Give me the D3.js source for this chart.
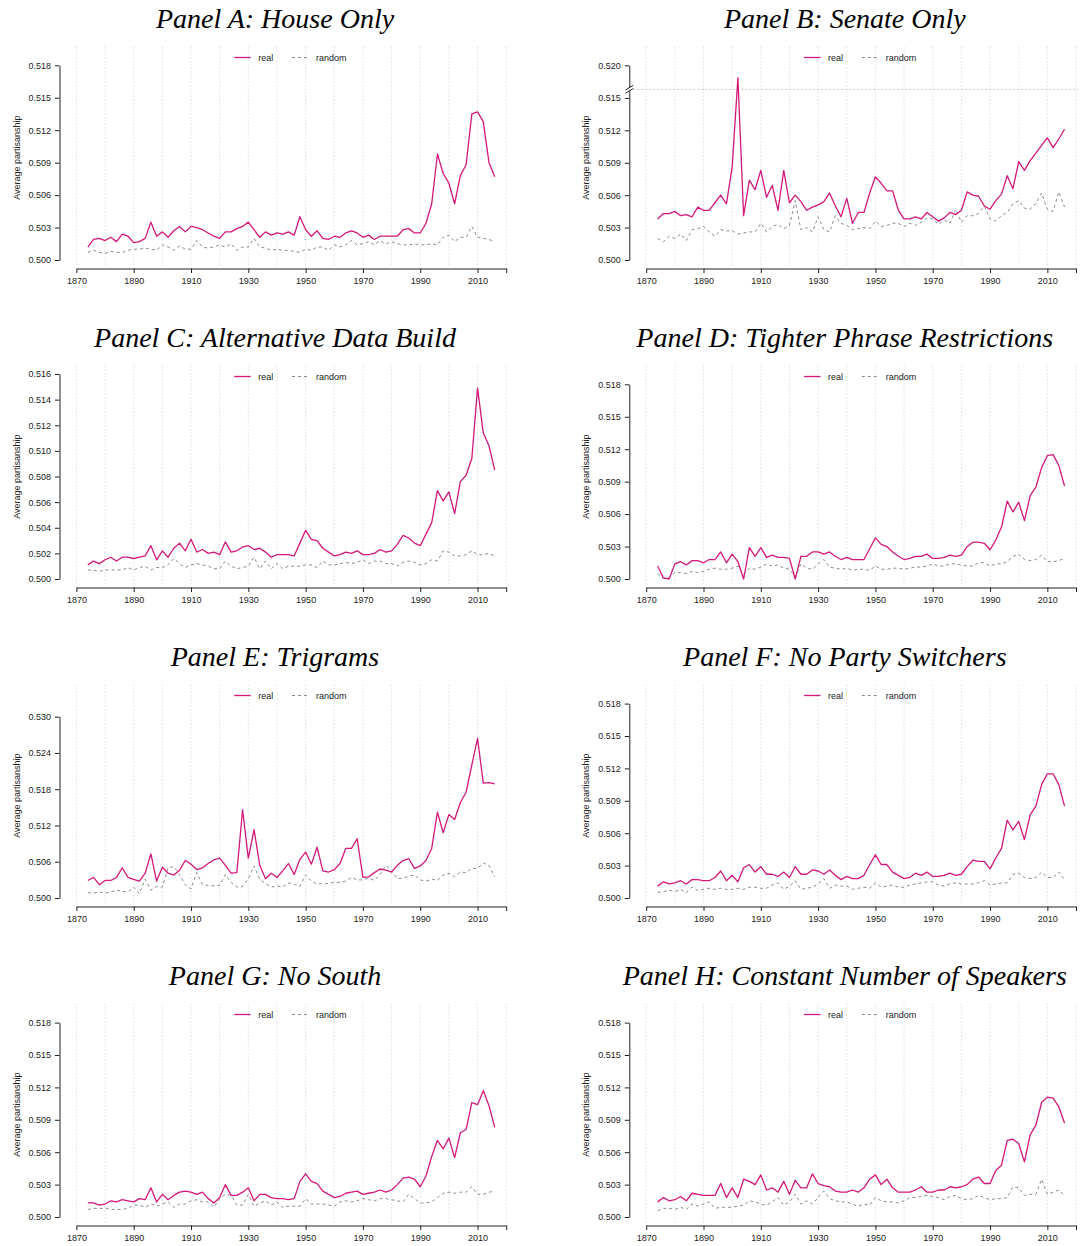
<!DOCTYPE html>
<html>
<head>
<meta charset="utf-8">
<script src="https://cdn.jsdelivr.net/npm/d3@7"></script>
<style>
  body { margin: 0; background: #fff; }
  svg { display: block; }
  .tick text { font-family: "Liberation Sans", Arial, sans-serif; font-size: 9px; fill: #222; }
</style>
</head>
<body>
<svg id="fig" width="1081" height="1246"></svg>
<script>
// Congress years (one point per two-year session)
const years = [1874,1876,1878,1880,1882,1884,1886,1888,1890,1892,
  1894,1896,1898,1900,1902,1904,1906,1908,1910,1912,
  1914,1916,1918,1920,1922,1924,1926,1928,1930,1932,
  1934,1936,1938,1940,1942,1944,1946,1948,1950,1952,
  1954,1956,1958,1960,1962,1964,1966,1968,1970,1972,
  1974,1976,1978,1980,1982,1984,1986,1988,1990,1992,
  1994,1996,1998,2000,2002,2004,2006,2008,2010,2012,
  2014,2016];

// Panel A: House only
const houseReal = [.5012,.5019,.5020,.5018,.5021,.5017,.5024,.5022,.5016,.5017,
  .5020,.5035,.5022,.5026,.5021,.5027,.5031,.5026,.5031,.5030,
  .5028,.5025,.5022,.5020,.5026,.5026,.5029,.5031,.5035,.5028,
  .5021,.5026,.5023,.5025,.5024,.5026,.5023,.5040,.5028,.5022,
  .5027,.5020,.5019,.5022,.5021,.5025,.5027,.5025,.5021,.5023,
  .5019,.5022,.5022,.5022,.5022,.5028,.5029,.5025,.5025,.5034,
  .5052,.5098,.5080,.5071,.5052,.5078,.5088,.5135,.5137,.5128,
  .5090,.5077];
const houseRandom = [.5007,.5009,.5007,.5006,.5008,.5007,.5007,.5009,.5010,.5010,
  .5011,.5010,.5009,.5014,.5012,.5009,.5013,.5010,.5010,.5018,
  .5012,.5011,.5012,.5014,.5012,.5015,.5009,.5012,.5012,.5020,
  .5012,.5011,.5009,.5010,.5009,.5009,.5008,.5007,.5010,.5009,
  .5012,.5012,.5009,.5014,.5012,.5014,.5018,.5014,.5015,.5017,
  .5014,.5018,.5015,.5017,.5015,.5014,.5014,.5015,.5014,.5014,
  .5015,.5014,.5021,.5023,.5017,.5021,.5021,.5031,.5021,.5020,
  .5019,.5017];

// Panel B: Senate only
const senateReal = [.5038,.5043,.5043,.5045,.5041,.5042,.5040,.5049,.5046,.5046,
  .5053,.5060,.5052,.5086,.5178,.5041,.5074,.5065,.5083,.5058,
  .5069,.5046,.5083,.5053,.5060,.5054,.5046,.5049,.5051,.5054,
  .5062,.5050,.5040,.5057,.5034,.5044,.5044,.5062,.5077,.5071,
  .5064,.5064,.5046,.5038,.5038,.5040,.5038,.5044,.5040,.5036,
  .5039,.5044,.5042,.5046,.5063,.5060,.5059,.5050,.5047,.5055,
  .5061,.5078,.5066,.5091,.5083,.5092,.5099,.5106,.5113,.5104,
  .5112,.5121];
const senateRandom = [.5020,.5017,.5022,.5020,.5024,.5018,.5028,.5029,.5031,.5026,
  .5022,.5028,.5027,.5027,.5024,.5025,.5026,.5026,.5034,.5026,
  .5031,.5033,.5029,.5032,.5055,.5028,.5030,.5026,.5040,.5028,
  .5026,.5041,.5034,.5032,.5028,.5029,.5030,.5029,.5036,.5031,
  .5032,.5034,.5034,.5031,.5034,.5032,.5035,.5039,.5038,.5033,
  .5037,.5034,.5047,.5035,.5041,.5041,.5043,.5050,.5038,.5036,
  .5041,.5044,.5052,.5055,.5048,.5047,.5052,.5062,.5047,.5045,
  .5063,.5049];

// Panel C: alternative data build
const altReal = [.5011,.5014,.5012,.5015,.5017,.5014,.5017,.5017,.5016,.5017,
  .5018,.5026,.5015,.5022,.5017,.5024,.5028,.5022,.5031,.5021,
  .5023,.5020,.5021,.5019,.5029,.5021,.5022,.5025,.5026,.5023,
  .5024,.5021,.5017,.5019,.5019,.5019,.5018,.5028,.5038,.5031,
  .5030,.5024,.5021,.5018,.5019,.5021,.5020,.5022,.5019,.5019,
  .5020,.5023,.5021,.5022,.5027,.5034,.5032,.5028,.5026,.5035,
  .5044,.5069,.5061,.5068,.5051,.5076,.5081,.5094,.5149,.5114,
  .5104,.5085];
const altRandom = [.5007,.5007,.5006,.5007,.5007,.5007,.5007,.5009,.5007,.5009,
  .5010,.5007,.5009,.5009,.5011,.5016,.5012,.5009,.5011,.5012,
  .5011,.5010,.5008,.5008,.5014,.5010,.5008,.5009,.5010,.5017,
  .5008,.5014,.5008,.5012,.5008,.5010,.5010,.5010,.5011,.5011,
  .5009,.5014,.5011,.5011,.5012,.5013,.5012,.5013,.5015,.5012,
  .5014,.5014,.5012,.5012,.5010,.5013,.5014,.5013,.5011,.5012,
  .5015,.5014,.5022,.5021,.5018,.5018,.5019,.5022,.5019,.5019,
  .5020,.5018];

// Panel D: tighter phrase restrictions
const tightReal = [.5012,.5001,.5000,.5014,.5016,.5013,.5017,.5017,.5015,.5018,
  .5018,.5025,.5015,.5023,.5016,.5000,.5029,.5021,.5029,.5020,
  .5022,.5020,.5020,.5019,.5000,.5021,.5021,.5025,.5025,.5023,
  .5025,.5021,.5018,.5020,.5018,.5018,.5018,.5028,.5038,.5032,
  .5030,.5025,.5021,.5018,.5019,.5021,.5021,.5023,.5019,.5019,
  .5020,.5022,.5021,.5022,.5030,.5034,.5034,.5033,.5027,.5036,
  .5048,.5072,.5062,.5071,.5054,.5077,.5085,.5103,.5114,.5115,
  .5105,.5086];
const tightRandom = [.5005,.5001,.5001,.5006,.5006,.5005,.5007,.5006,.5007,.5009,
  .5010,.5009,.5009,.5010,.5012,.5004,.5010,.5009,.5011,.5014,
  .5012,.5013,.5010,.5009,.5002,.5014,.5010,.5009,.5014,.5018,
  .5011,.5010,.5009,.5010,.5008,.5009,.5009,.5008,.5012,.5009,
  .5009,.5010,.5010,.5009,.5010,.5011,.5011,.5012,.5014,.5012,
  .5012,.5014,.5014,.5013,.5012,.5012,.5015,.5015,.5012,.5014,
  .5014,.5016,.5021,.5023,.5018,.5017,.5018,.5022,.5016,.5016,
  .5017,.5019];

// Panel E: trigrams
const trigramReal = [.5029,.5034,.5022,.5029,.5029,.5034,.5050,.5034,.5031,.5028,
  .5041,.5073,.5028,.5051,.5041,.5038,.5046,.5062,.5056,.5047,
  .5050,.5057,.5063,.5066,.5054,.5041,.5042,.5146,.5066,.5113,
  .5054,.5032,.5041,.5034,.5045,.5057,.5039,.5064,.5076,.5056,
  .5084,.5045,.5043,.5047,.5057,.5082,.5082,.5098,.5034,.5035,
  .5042,.5048,.5046,.5043,.5054,.5062,.5065,.5049,.5053,.5062,
  .5082,.5142,.5108,.5138,.5130,.5158,.5175,.5220,.5264,.5190,
  .5191,.5189];
const trigramRandom = [.5009,.5008,.5010,.5008,.5010,.5013,.5011,.5010,.5018,.5007,
  .5031,.5013,.5019,.5018,.5050,.5052,.5039,.5022,.5015,.5042,
  .5022,.5021,.5020,.5021,.5039,.5026,.5018,.5019,.5032,.5053,
  .5031,.5024,.5018,.5020,.5018,.5025,.5023,.5019,.5038,.5028,
  .5023,.5024,.5024,.5026,.5026,.5028,.5034,.5030,.5030,.5033,
  .5029,.5039,.5054,.5045,.5032,.5033,.5036,.5038,.5030,.5028,
  .5031,.5029,.5038,.5041,.5035,.5043,.5042,.5049,.5049,.5058,
  .5054,.5035];

// Panel F: no party switchers
const noSwitchReal = [.5011,.5015,.5013,.5014,.5016,.5013,.5017,.5017,.5016,.5016,
  .5019,.5025,.5016,.5021,.5015,.5028,.5031,.5024,.5029,.5022,
  .5022,.5020,.5024,.5019,.5029,.5022,.5022,.5026,.5025,.5022,
  .5026,.5021,.5017,.5020,.5018,.5018,.5021,.5031,.5040,.5031,
  .5031,.5024,.5021,.5018,.5019,.5023,.5021,.5024,.5020,.5020,
  .5021,.5023,.5021,.5022,.5029,.5035,.5034,.5034,.5027,.5037,
  .5046,.5072,.5063,.5071,.5054,.5077,.5085,.5105,.5115,.5115,
  .5105,.5085];
const noSwitchRandom = [.5005,.5006,.5007,.5006,.5008,.5005,.5010,.5007,.5008,.5009,
  .5008,.5009,.5008,.5008,.5009,.5008,.5010,.5010,.5009,.5009,
  .5012,.5014,.5008,.5011,.5016,.5008,.5009,.5010,.5013,.5018,
  .5009,.5012,.5011,.5011,.5008,.5009,.5010,.5009,.5014,.5010,
  .5011,.5012,.5010,.5010,.5012,.5013,.5014,.5015,.5015,.5012,
  .5011,.5013,.5014,.5013,.5013,.5013,.5014,.5016,.5012,.5013,
  .5014,.5014,.5022,.5023,.5019,.5018,.5019,.5024,.5019,.5019,
  .5024,.5017];

// Panel G: no South
const noSouthReal = [.5013,.5013,.5011,.5012,.5015,.5014,.5016,.5015,.5014,.5017,
  .5016,.5027,.5014,.5021,.5016,.5020,.5023,.5024,.5023,.5021,
  .5023,.5017,.5013,.5018,.5030,.5020,.5020,.5023,.5027,.5015,
  .5021,.5021,.5018,.5017,.5017,.5016,.5017,.5033,.5040,.5033,
  .5031,.5024,.5021,.5018,.5019,.5022,.5023,.5024,.5021,.5022,
  .5023,.5025,.5023,.5025,.5030,.5036,.5037,.5035,.5028,.5038,
  .5056,.5071,.5063,.5073,.5055,.5078,.5081,.5106,.5104,.5117,
  .5103,.5083];
const noSouthRandom = [.5007,.5008,.5008,.5008,.5007,.5007,.5007,.5008,.5011,.5011,
  .5009,.5012,.5010,.5012,.5014,.5009,.5012,.5012,.5015,.5016,
  .5014,.5014,.5009,.5017,.5021,.5020,.5011,.5011,.5021,.5010,
  .5013,.5015,.5011,.5014,.5009,.5010,.5010,.5010,.5017,.5012,
  .5012,.5012,.5011,.5010,.5014,.5015,.5014,.5015,.5017,.5016,
  .5015,.5017,.5017,.5016,.5015,.5014,.5021,.5017,.5013,.5013,
  .5014,.5018,.5022,.5023,.5022,.5023,.5023,.5028,.5021,.5021,
  .5023,.5024];

// Panel H: constant number of speakers
const constReal = [.5014,.5018,.5015,.5016,.5019,.5015,.5022,.5021,.5020,.5020,
  .5020,.5031,.5018,.5027,.5018,.5035,.5033,.5030,.5039,.5025,
  .5027,.5023,.5033,.5021,.5034,.5027,.5027,.5040,.5031,.5029,
  .5028,.5024,.5023,.5023,.5025,.5023,.5027,.5035,.5039,.5030,
  .5035,.5027,.5023,.5023,.5023,.5025,.5028,.5023,.5023,.5025,
  .5025,.5028,.5027,.5028,.5030,.5035,.5037,.5031,.5031,.5043,
  .5048,.5071,.5072,.5068,.5051,.5076,.5085,.5106,.5111,.5110,
  .5102,.5087];
const constRandom = [.5006,.5008,.5008,.5007,.5009,.5007,.5012,.5010,.5012,.5014,
  .5008,.5009,.5009,.5009,.5010,.5011,.5015,.5014,.5012,.5011,
  .5014,.5018,.5011,.5014,.5021,.5012,.5015,.5012,.5018,.5024,
  .5017,.5015,.5014,.5014,.5012,.5010,.5012,.5011,.5018,.5015,
  .5014,.5014,.5013,.5015,.5018,.5018,.5019,.5020,.5019,.5018,
  .5016,.5019,.5020,.5017,.5016,.5017,.5020,.5018,.5016,.5017,
  .5017,.5018,.5028,.5027,.5020,.5021,.5021,.5035,.5021,.5023,
  .5025,.5020];

// Axis ticks
const xTicks = [1870, 1890, 1910, 1930, 1950, 1970, 1990, 2010, 2020];
const gridYears = [1870,1880,1890,1900,1910,1920,1930,1940,1950,1960,1970,1980,1990,2000,2010,2020];
const yTicks3 = [0.500, 0.503, 0.506, 0.509, 0.512, 0.515, 0.518];
const yTicksB = [0.500, 0.503, 0.506, 0.509, 0.512, 0.515, 0.520];
const yTicksC = [0.500, 0.502, 0.504, 0.506, 0.508, 0.510, 0.512, 0.514, 0.516];
const yTicksE = [0.500, 0.506, 0.512, 0.518, 0.524, 0.530];
const seriesNames = ["real", "random"];

const panels = [
  { title: "Panel A: House Only", real: houseReal, random: houseRandom, ticks: yTicks3, top: 65.3 },
  { title: "Panel B: Senate Only", real: senateReal, random: senateRandom, ticks: yTicksB, top: 65.3, brk: 0.5158, brkY: 89.3 },
  { title: "Panel C: Alternative Data Build", real: altReal, random: altRandom, ticks: yTicksC, top: 55 },
  { title: "Panel D: Tighter Phrase Restrictions", real: tightReal, random: tightRandom, ticks: yTicks3, top: 65.3 },
  { title: "Panel E: Trigrams", real: trigramReal, random: trigramRandom, ticks: yTicksE, top: 78.7 },
  { title: "Panel F: No Party Switchers", real: noSwitchReal, random: noSwitchRandom, ticks: yTicks3, top: 65.6 },
  { title: "Panel G: No South", real: noSouthReal, random: noSouthRandom, ticks: yTicks3, top: 65.6 },
  { title: "Panel H: Constant Number of Speakers", real: constReal, random: constRandom, ticks: yTicks3, top: 65.6 }
];

// Layout of one panel (local coordinates)
const COL_DX = 569.8, ROW_DY = 319;
const X0 = 76.4, X1 = 506.2;
const Y_BASE = 260, GRID_TOP = 46.7, AXIS_Y = 268.5, YAXIS_X = 59.5;
const REAL_COLOR = "#d2187a", RANDOM_COLOR = "#8a8a8a";
const SANS = '"Liberation Sans", Arial, sans-serif';

const svg = d3.select("#fig");
const fmt = d3.format(".3f");

panels.forEach((p, i) => {
  const g = svg.append("g")
    .attr("transform", `translate(${(i % 2) * COL_DX},${Math.floor(i / 2) * ROW_DY})`);

  const x = d3.scaleLinear().domain([1870, 2020]).range([X0, X1]);
  const yMax = p.ticks[p.ticks.length - 1];
  const y = p.brk
    ? d3.scaleLinear().domain([0.5, p.brk, yMax]).range([Y_BASE, p.brkY, p.top])
    : d3.scaleLinear().domain([0.5, yMax]).range([Y_BASE, p.top]);

  // title
  g.append("text")
    .attr("x", 275).attr("y", 28)
    .attr("text-anchor", "middle")
    .style("font-family", '"Liberation Serif", "Times New Roman", serif')
    .style("font-style", "italic")
    .style("font-size", "28px")
    .attr("fill", "#000")
    .text(p.title);

  // vertical dotted grid
  g.selectAll("line.grid").data(gridYears).join("line")
    .attr("class", "grid")
    .attr("x1", d => x(d)).attr("x2", d => x(d))
    .attr("y1", GRID_TOP).attr("y2", AXIS_Y - 2)
    .attr("stroke", "#d6d6d6").attr("stroke-width", 0.8)
    .attr("stroke-dasharray", "1.5,2");

  // y axis
  const yAxis = g.append("g")
    .attr("transform", `translate(${YAXIS_X},0)`)
    .call(d3.axisLeft(y).tickValues(p.ticks).tickFormat(fmt).tickSize(4.5).tickSizeOuter(0).tickPadding(4));
  yAxis.selectAll("path, line").attr("stroke", "#222").attr("stroke-width", 1);

  // x axis
  const xAxis = g.append("g")
    .attr("transform", `translate(0,${AXIS_Y})`)
    .call(d3.axisBottom(x).tickValues(xTicks)
      .tickFormat(d => d === 2020 ? "" : String(d))
      .tickSize(4.5).tickSizeOuter(0).tickPadding(5));
  xAxis.selectAll("path, line").attr("stroke", "#222").attr("stroke-width", 1);

  // axis break (Senate panel)
  if (p.brk) {
    const by = y(p.brk);
    g.append("line")
      .attr("x1", YAXIS_X).attr("x2", X1 + 2)
      .attr("y1", by).attr("y2", by)
      .attr("stroke", "#c4c4c4").attr("stroke-width", 1)
      .attr("stroke-dasharray", "2,2");
    g.append("rect")
      .attr("x", YAXIS_X - 2).attr("y", by - 1.5)
      .attr("width", 4).attr("height", 3)
      .attr("fill", "#fff");
    [-1.6, 1.6].forEach(off => {
      g.append("line")
        .attr("x1", YAXIS_X - 4).attr("x2", YAXIS_X + 4)
        .attr("y1", by + off + 2.4).attr("y2", by + off - 2.4)
        .attr("stroke", "#222").attr("stroke-width", 1);
    });
  }

  // y axis title
  g.append("text")
    .attr("transform", `translate(16.5,${(GRID_TOP + AXIS_Y) / 2}) rotate(-90)`)
    .attr("text-anchor", "middle")
    .attr("dominant-baseline", "central")
    .style("font-family", SANS).style("font-size", "9px")
    .attr("fill", "#222")
    .text("Average partisanship");

  // series
  const line = d3.line().x((d, k) => x(years[k])).y(d => y(d));
  g.append("path").datum(p.random)
    .attr("d", line).attr("fill", "none")
    .attr("stroke", RANDOM_COLOR).attr("stroke-width", 1)
    .attr("stroke-dasharray", "3,3");
  g.append("path").datum(p.real)
    .attr("d", line).attr("fill", "none")
    .attr("stroke", REAL_COLOR).attr("stroke-width", 1.3)
    .attr("stroke-linejoin", "round");

  // legend
  const lg = g.append("g").attr("transform", "translate(0,57.5)");
  const legendItems = [
    { name: seriesNames[0], x: 234.2, color: REAL_COLOR, dash: null, w: 1.3 },
    { name: seriesNames[1], x: 292, color: RANDOM_COLOR, dash: "3,3", w: 1 }
  ];
  legendItems.forEach(it => {
    lg.append("line")
      .attr("x1", it.x).attr("x2", it.x + 16.5)
      .attr("y1", 0).attr("y2", 0)
      .attr("stroke", it.color).attr("stroke-width", it.w)
      .attr("stroke-dasharray", it.dash);
    lg.append("text")
      .attr("x", it.x + 24).attr("y", 0)
      .attr("dominant-baseline", "central")
      .style("font-family", SANS).style("font-size", "9px")
      .attr("fill", "#222")
      .text(it.name);
  });
});
</script>
</body>
</html>
